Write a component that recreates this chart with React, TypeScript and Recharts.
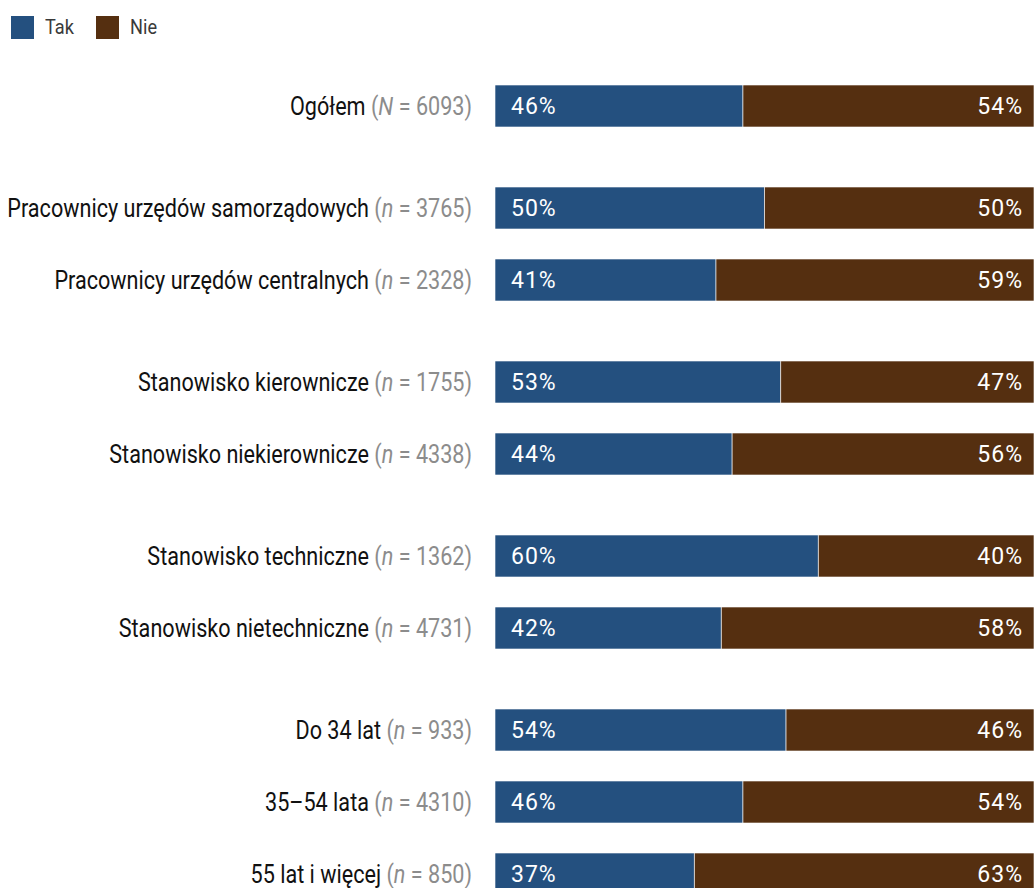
import { BarChart, Bar, XAxis, YAxis, LabelList } from 'recharts';

const categories = [
    'Ogółem',
    'Pracownicy urzędów samorządowych',
    'Pracownicy urzędów centralnych',
    'Stanowisko kierownicze',
    'Stanowisko niekierownicze',
    'Stanowisko techniczne',
    'Stanowisko nietechniczne',
    'Do 34 lat',
    '35–54 lata',
    '55 lat i więcej',
];
const sampleSymbols = ['N', 'n', 'n', 'n', 'n', 'n', 'n', 'n', 'n', 'n'];
const sampleSizes = [6093, 3765, 2328, 1755, 4338, 1362, 4731, 933, 4310, 850];
const takValues = [46, 50, 41, 53, 44, 60, 42, 54, 46, 37];
const nieValues = [54, 50, 59, 47, 56, 40, 58, 46, 54, 63];
const groupSizes = [1, 2, 2, 2, 3];

const series = [
    { key: 'tak', name: 'Tak', color: '#24507f' },
    { key: 'nie', name: 'Nie', color: '#552f10' },
];

// no condensed face installed, so Roboto gets squeezed horizontally
const LABEL_FONT = 'Roboto, sans-serif';
const LABEL_SQUEEZE = 0.865;
const VALUE_FONT = 'Roboto, sans-serif';
const ROW = 72;
const GROUP_GAP = 30;

const rows = categories.map((name, i) => ({
    name,
    symbol: sampleSymbols[i],
    n: sampleSizes[i],
    tak: takValues[i],
    nie: nieValues[i],
}));

const groups: typeof rows[] = [];
let start = 0;
groupSizes.forEach((size) => {
    groups.push(rows.slice(start, start + size));
    start += size;
});

function CategoryTick({ x, y, payload }: any) {
    const row = rows.find((r) => r.name === payload.value);
    if (!row) return null;
    return (
        <g transform={`translate(${x},${y}) scale(${LABEL_SQUEEZE},1)`}>
            <text x={0} y={0} dy="0.36em" textAnchor="end" fontFamily={LABEL_FONT} fontSize={25} style={{ whiteSpace: 'pre' }}>
                <tspan fill="#111111">{row.name} </tspan>
                <tspan fill="#8c8c8c">(</tspan>
                <tspan fill="#8c8c8c" fontStyle="italic">{row.symbol}</tspan>
                <tspan fill="#8c8c8c">{` = ${row.n})`}</tspan>
            </text>
        </g>
    );
}

export default function App() {
    return (
        <div style={{ position: 'absolute', left: 0, top: 0, width: 1034, height: 888, overflow: 'hidden', background: '#fff' }}>
            <div style={{ position: 'absolute', left: 11, top: 15, display: 'flex', alignItems: 'center', fontFamily: LABEL_FONT, fontSize: 21, color: '#3a3a3a' }}>
                {series.map((s) => (
                    <div key={s.key} style={{ display: 'flex', alignItems: 'center', marginRight: 23 }}>
                        <span style={{ width: 23, height: 23, background: s.color, display: 'inline-block', marginRight: 11 }} />
                        <span style={{ display: 'inline-block', transform: `scaleX(${LABEL_SQUEEZE})`, transformOrigin: 'left center', width: 28 }}>{s.name}</span>
                    </div>
                ))}
            </div>
            <div style={{ position: 'absolute', left: 0, top: 70 }}>
                {groups.map((g, gi) => (
                    <div key={gi} style={{ marginBottom: GROUP_GAP }}>
                        <BarChart width={1034} height={g.length * ROW} data={g} layout="vertical" margin={{ top: 0, right: 0, bottom: 0, left: 0 }}>
                            <XAxis type="number" domain={[0, 100]} hide />
                            <YAxis type="category" dataKey="name" width={495} axisLine={false} tickLine={false} tickSize={0} tickMargin={23} tick={<CategoryTick />} interval={0} />
                            {series.map((s, si) => (
                                <Bar key={s.key} dataKey={s.key} stackId="a" fill={s.color} barSize={42} stroke="#ffffff" strokeOpacity={0.6} strokeWidth={1} isAnimationActive={false}>
                                    <LabelList
                                        dataKey={s.key}
                                        position={si === 0 ? 'insideLeft' : 'insideRight'}
                                        offset={si === 0 ? 16 : 11}
                                        formatter={(v: any) => `${v}%`}
                                        fill="#ffffff"
                                        fontFamily={VALUE_FONT}
                                        fontSize={23}
                                        style={{ letterSpacing: 1 }}
                                    />
                                </Bar>
                            ))}
                        </BarChart>
                    </div>
                ))}
            </div>
        </div>
    );
}
